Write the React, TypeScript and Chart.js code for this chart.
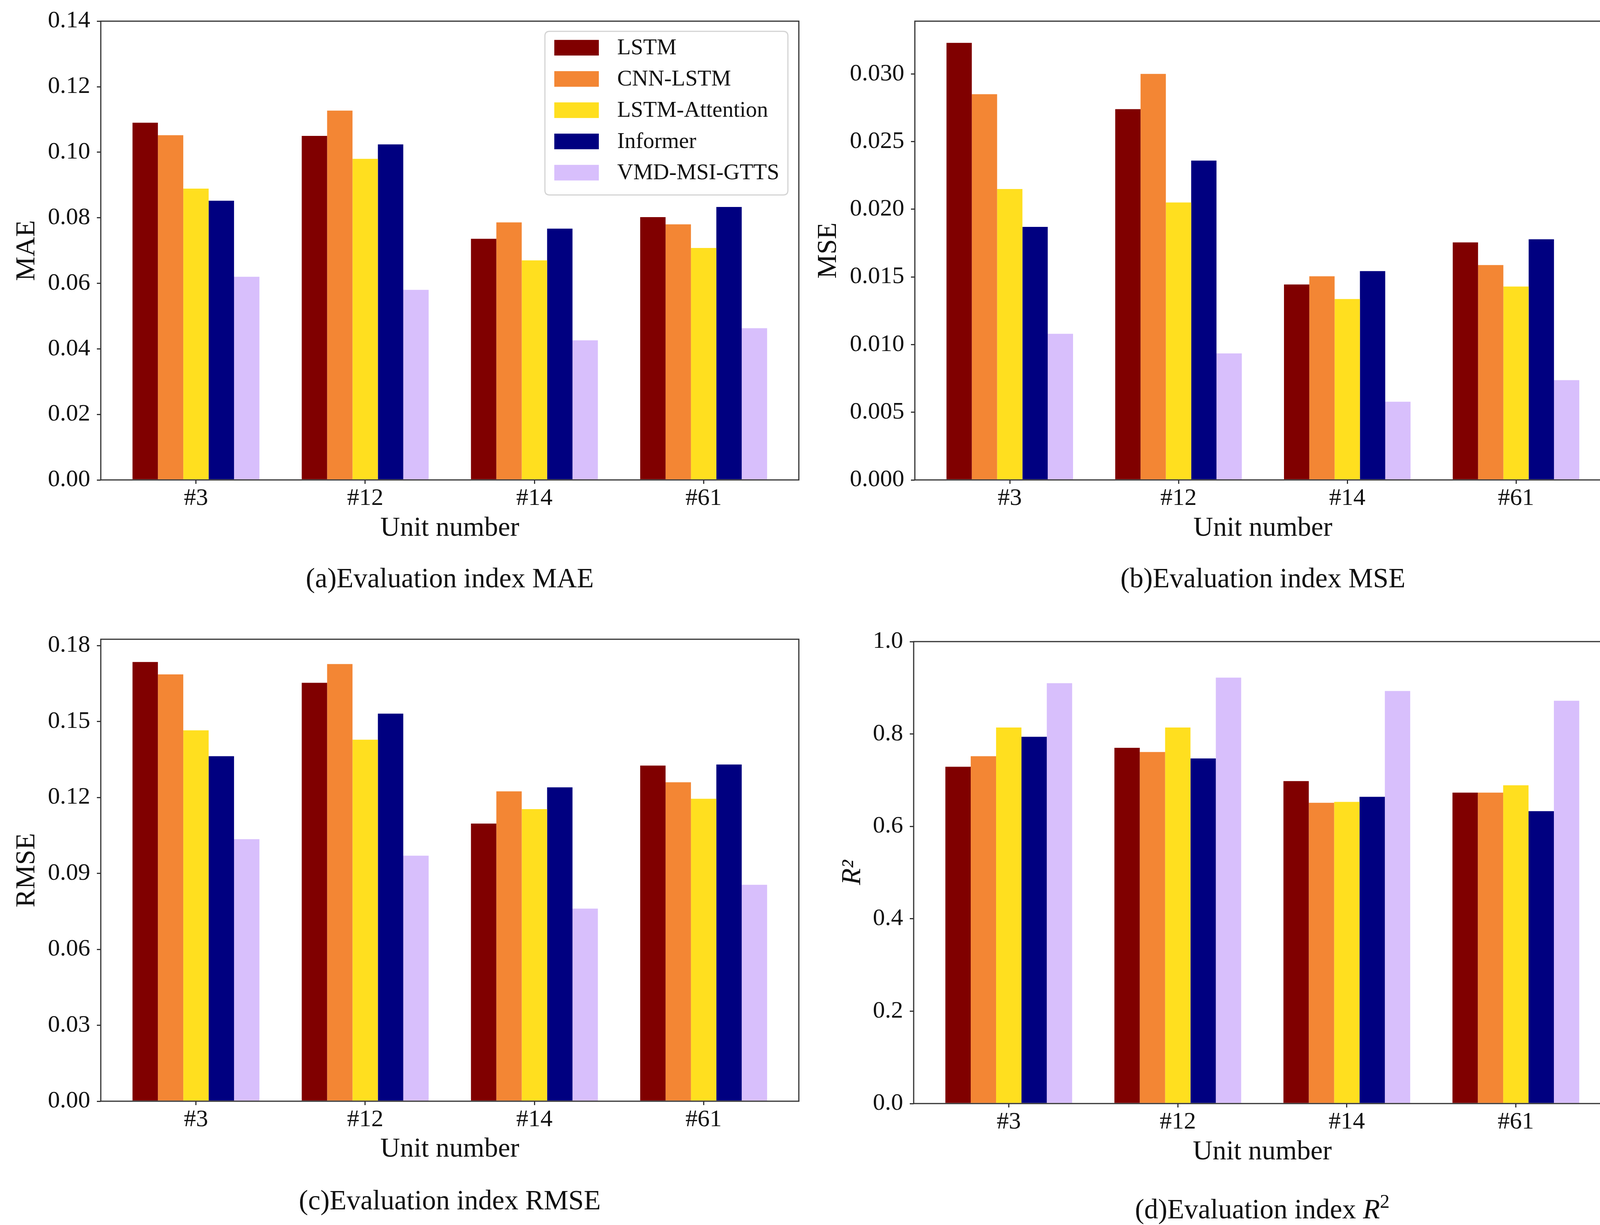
import React, { useEffect, useRef } from 'react';
import { Chart, registerables } from 'chart.js';

Chart.register(...registerables);

// ---------------- data ----------------
const units = ['#3', '#12', '#14', '#61'];
const models = ['LSTM', 'CNN-LSTM', 'LSTM-Attention', 'Informer', 'VMD-MSI-GTTS'];
const modelColors = ['#800000', '#F38634', '#FFDF1F', '#000080', '#D8BFFC'];

// rows follow `models`, columns follow `units`
const maeValues = [
  [0.109, 0.105, 0.0736, 0.0802],
  [0.1052, 0.1127, 0.0786, 0.078],
  [0.0889, 0.098, 0.067, 0.0708],
  [0.0852, 0.1024, 0.0767, 0.0833],
  [0.062, 0.058, 0.0426, 0.0463],
];
const mseValues = [
  [0.0323, 0.0274, 0.01444, 0.01755],
  [0.0285, 0.030, 0.01505, 0.01588],
  [0.0215, 0.0205, 0.01337, 0.01429],
  [0.0187, 0.0236, 0.01543, 0.01778],
  [0.0108, 0.00935, 0.00578, 0.00737],
];
const rmseValues = [
  [0.1735, 0.1653, 0.1097, 0.1326],
  [0.1686, 0.1727, 0.1224, 0.126],
  [0.1465, 0.1428, 0.1154, 0.1195],
  [0.1363, 0.1531, 0.124, 0.133],
  [0.1035, 0.097, 0.0761, 0.0855],
];
const r2Values = [
  [0.729, 0.77, 0.698, 0.673],
  [0.752, 0.761, 0.651, 0.673],
  [0.814, 0.814, 0.653, 0.689],
  [0.794, 0.747, 0.664, 0.633],
  [0.91, 0.922, 0.893, 0.872],
];

const maeTicks = [0, 0.02, 0.04, 0.06, 0.08, 0.1, 0.12, 0.14];
const mseTicks = [0, 0.005, 0.01, 0.015, 0.02, 0.025, 0.03];
const rmseTicks = [0, 0.03, 0.06, 0.09, 0.12, 0.15, 0.18];
const r2Ticks = [0, 0.2, 0.4, 0.6, 0.8, 1.0];

const maeMax = 0.14;
const mseMax = 0.0339;
const rmseMax = 0.1825;
const r2Max = 1.0;

const xMin = -0.5625;
const xMax = 3.5625;

// ---------------- styles ----------------
const FONT = '"Liberation Serif", "Times New Roman", serif';
const TEXT = '#111111';
const AXIS = '#333333';
const TICK_SIZE = 62;
const TITLE_SIZE = 70;

type PanelCfg = {
  id: string;
  left: number; top: number; width: number; height: number;
  areaLeft: number; areaRight: number; areaTop: number; areaBottom: number;
  xTitleY: number; yTitleX: number;
  yLabel: string; yItalic: boolean;
  values: number[][]; ticks: number[]; yMax: number; decimals: number;
  legend: boolean;
  caption: React.ReactNode; captionY: number;
};

const framePlugin = {
  id: 'frame',
  afterDatasetsDraw(chart: any) {
    const { ctx, chartArea } = chart;
    ctx.save();
    ctx.strokeStyle = AXIS;
    ctx.lineWidth = 3;
    ctx.strokeRect(chartArea.left, chartArea.top, chartArea.right - chartArea.left, chartArea.bottom - chartArea.top);
    ctx.restore();
  },
};

const legendPlugin = {
  id: 'mplLegend',
  afterDraw(chart: any) {
    const { ctx, chartArea } = chart;
    const w = 622;
    const h = 419;
    const x = chartArea.right - 28 - w;
    const y = chartArea.top + 26;
    const r = 12;
    ctx.save();
    ctx.beginPath();
    ctx.moveTo(x + r, y);
    ctx.lineTo(x + w - r, y);
    ctx.quadraticCurveTo(x + w, y, x + w, y + r);
    ctx.lineTo(x + w, y + h - r);
    ctx.quadraticCurveTo(x + w, y + h, x + w - r, y + h);
    ctx.lineTo(x + r, y + h);
    ctx.quadraticCurveTo(x, y + h, x, y + h - r);
    ctx.lineTo(x, y + r);
    ctx.quadraticCurveTo(x, y, x + r, y);
    ctx.closePath();
    ctx.fillStyle = 'rgba(255,255,255,0.85)';
    ctx.fill();
    ctx.strokeStyle = '#d4d4d4';
    ctx.lineWidth = 3;
    ctx.stroke();
    chart.data.datasets.forEach((ds: any, i: number) => {
      const cy = y + 42 + i * 80;
      ctx.fillStyle = ds.backgroundColor;
      ctx.fillRect(x + 24, cy - 20, 114, 40);
      ctx.fillStyle = TEXT;
      ctx.font = `57px ${FONT}`;
      ctx.textBaseline = 'middle';
      ctx.textAlign = 'left';
      ctx.fillText(ds.label, x + 185, cy + 2);
    });
    ctx.restore();
  },
};

function Panel({ cfg }: { cfg: PanelCfg }) {
  const ref = useRef<HTMLCanvasElement | null>(null);
  useEffect(() => {
    const canvas = ref.current;
    if (!canvas) return;
    const tickFont = { family: FONT, size: TICK_SIZE };
    const titleFont = { family: FONT, size: TITLE_SIZE };
    const lh = TITLE_SIZE * 1.2;
    const chart = new Chart(canvas, {
      type: 'bar',
      data: {
        datasets: models.map((m, mi) => ({
          label: m,
          data: units.map((_, ui) => ({ x: ui, y: cfg.values[mi][ui] })),
          backgroundColor: modelColors[mi],
          borderWidth: 0,
          categoryPercentage: 0.75,
          barPercentage: 1.0,
        })),
      },
      options: {
        animation: false,
        responsive: false,
        maintainAspectRatio: false,
        layout: {
          padding: {
            left: 0,
            top: cfg.areaTop - cfg.top,
            right: cfg.left + cfg.width - cfg.areaRight,
            bottom: 0,
          },
        },
        plugins: {
          legend: { display: false },
          tooltip: { enabled: false },
          title: { display: false },
        },
        scales: {
          x: {
            type: 'linear',
            min: xMin,
            max: xMax,
            offset: false,
            afterBuildTicks: (s: any) => {
              s.ticks = units.map((_, i) => ({ value: i }));
            },
            afterFit: (s: any) => {
              s.height = cfg.top + cfg.height - cfg.areaBottom;
            },
            ticks: {
              callback: (v: any) => units[Math.round(Number(v))] ?? '',
              font: tickFont,
              color: TEXT,
              padding: 1,
              maxRotation: 0,
              autoSkip: false,
            },
            grid: {
              display: true,
              drawOnChartArea: false,
              drawTicks: true,
              tickLength: 10,
              color: AXIS,
              lineWidth: 3,
              offset: false,
            },
            border: { display: false },
            title: {
              display: true,
              text: 'Unit number',
              font: titleFont,
              color: TEXT,
              padding: { top: 0, bottom: cfg.top + cfg.height - cfg.xTitleY - lh / 2 },
            },
          },
          y: {
            type: 'linear',
            min: 0,
            max: cfg.yMax,
            afterBuildTicks: (s: any) => {
              s.ticks = cfg.ticks.map((v) => ({ value: v }));
            },
            afterFit: (s: any) => {
              s.width = cfg.areaLeft - cfg.left;
            },
            ticks: {
              callback: (v: any) => Number(v).toFixed(cfg.decimals),
              font: tickFont,
              color: TEXT,
              padding: 17,
              autoSkip: false,
            },
            grid: {
              display: true,
              drawOnChartArea: false,
              drawTicks: true,
              tickLength: 10,
              color: AXIS,
              lineWidth: 3,
            },
            border: { display: false },
            title: {
              display: true,
              text: cfg.yLabel,
              font: { ...titleFont, style: cfg.yItalic ? 'italic' : 'normal' },
              color: TEXT,
              padding: { top: cfg.yTitleX - cfg.left - lh / 2, bottom: 0 },
            },
          },
        },
      } as any,
      plugins: cfg.legend ? [framePlugin, legendPlugin] : [framePlugin],
    });
    return () => chart.destroy();
  }, [cfg]);

  const areaW = cfg.areaRight - cfg.areaLeft;
  return (
    <>
      <canvas
        ref={ref}
        width={cfg.width}
        height={cfg.height}
        style={{ position: 'absolute', left: cfg.left, top: cfg.top, width: cfg.width, height: cfg.height }}
      />
      <div
        style={{
          position: 'absolute',
          left: cfg.areaLeft,
          width: areaW,
          top: cfg.captionY - 43,
          height: 86,
          lineHeight: '86px',
          textAlign: 'center',
          fontFamily: FONT,
          fontSize: 71,
          color: TEXT,
          whiteSpace: 'nowrap',
        }}
      >
        {cfg.caption}
      </div>
    </>
  );
}

const panels: PanelCfg[] = [
  {
    id: 'a', left: 0, top: 0, width: 2078, height: 1420,
    areaLeft: 258, areaRight: 2045, areaTop: 47, areaBottom: 1229,
    xTitleY: 1354, yTitleX: 70, yLabel: 'MAE', yItalic: false,
    values: maeValues, ticks: maeTicks, yMax: maeMax, decimals: 2, legend: true,
    caption: '(a)Evaluation index MAE', captionY: 1480,
  },
  {
    id: 'b', left: 2078, top: 0, width: 2078, height: 1420,
    areaLeft: 2342, areaRight: 4124, areaTop: 47, areaBottom: 1229,
    xTitleY: 1354, yTitleX: 2122, yLabel: 'MSE', yItalic: false,
    values: mseValues, ticks: mseTicks, yMax: mseMax, decimals: 3, legend: false,
    caption: '(b)Evaluation index MSE', captionY: 1480,
  },
  {
    id: 'c', left: 0, top: 1580, width: 2078, height: 1430,
    areaLeft: 258, areaRight: 2045, areaTop: 1637, areaBottom: 2820,
    xTitleY: 2944, yTitleX: 70, yLabel: 'RMSE', yItalic: false,
    values: rmseValues, ticks: rmseTicks, yMax: rmseMax, decimals: 2, legend: false,
    caption: '(c)Evaluation index RMSE', captionY: 3073,
  },
  {
    id: 'd', left: 2078, top: 1580, width: 2078, height: 1430,
    areaLeft: 2339, areaRight: 4124, areaTop: 1643, areaBottom: 2826,
    xTitleY: 2951, yTitleX: 2184, yLabel: 'R²', yItalic: true,
    values: r2Values, ticks: r2Ticks, yMax: r2Max, decimals: 1, legend: false,
    caption: (
      <span>
        (d)Evaluation index <i>R</i>
        <sup style={{ fontSize: '0.7em', verticalAlign: '0.55em', fontStyle: 'normal' }}>2</sup>
      </span>
    ),
    captionY: 3077,
  },
];

export default function App() {
  useEffect(() => {
    document.body.style.margin = '0';
    document.body.style.background = '#ffffff';
  }, []);
  return (
    <div style={{ position: 'absolute', left: 0, top: 0, width: 4156, height: 3137, background: '#ffffff', overflow: 'hidden' }}>
      {panels.map((p) => (
        <Panel key={p.id} cfg={p} />
      ))}
    </div>
  );
}
